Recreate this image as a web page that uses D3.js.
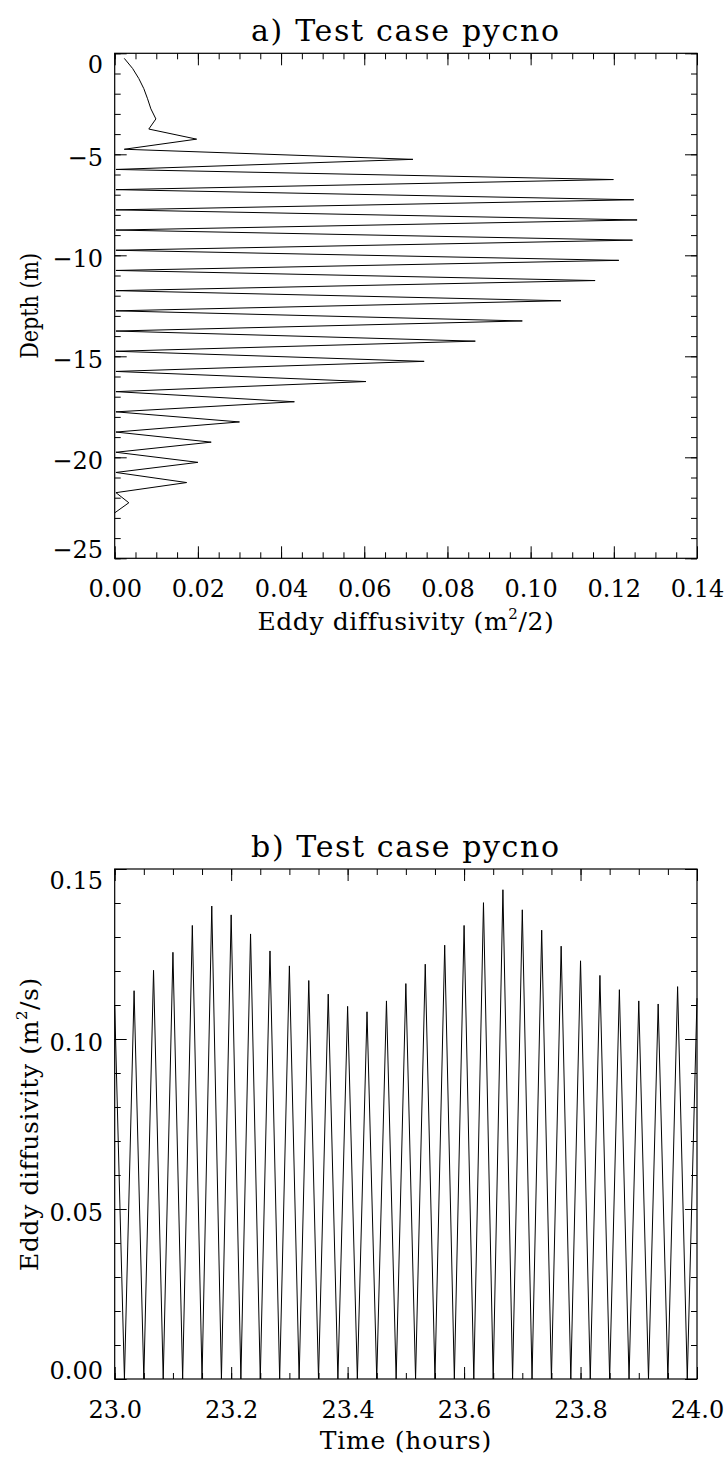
<!DOCTYPE html>
<html>
<head>
<meta charset="utf-8" />
<title>Test case pycno</title>
<script src="https://d3js.org/d3.v7.min.js"></script>
<style>
  body { margin: 0; background: #fff; }
  svg text { font-family: "DejaVu Serif", "Liberation Serif", serif !important; fill: #000; }
</style>
</head>
<body>
<svg width="727" height="1463"></svg>
<script>
// panel a: eddy diffusivity profile against depth
const depths = [-0.25, -0.75, -1.25, -1.75, -2.25, -2.75, -3.25, -3.75, -4.25, -4.75,
  -5.25, -5.75, -6.25, -6.75, -7.25, -7.75, -8.25, -8.75, -9.25, -9.75,
  -10.25, -10.75, -11.25, -11.75, -12.25, -12.75, -13.25, -13.75, -14.25, -14.75,
  -15.25, -15.75, -16.25, -16.75, -17.25, -17.75, -18.25, -18.75, -19.25, -19.75,
  -20.25, -20.75, -21.25, -21.75, -22.25, -22.75];
const diffA = [0.0023, 0.0043, 0.0058, 0.0070, 0.0079, 0.0087, 0.0099, 0.0082, 0.0197, 0.0023,
  0.0717, 0.0003, 0.1199, 0.0003, 0.1248, 0.0003, 0.1256, 0.0003, 0.1245, 0.0003,
  0.1212, 0.0003, 0.1155, 0.0003, 0.1073, 0.0003, 0.0980, 0.0003, 0.0867, 0.0003,
  0.0744, 0.0003, 0.0604, 0.0003, 0.0432, 0.0003, 0.0300, 0.0003, 0.0232, 0.0003,
  0.0200, 0.0003, 0.0173, 0.0003, 0.0034, 0.0000];
const xTicksA = [0, 0.02, 0.04, 0.06, 0.08, 0.10, 0.12, 0.14];
const yTicksA = [0, -5, -10, -15, -20, -25];

// panel b: eddy diffusivity time series
const times = [23.0000, 23.0167, 23.0333, 23.0500, 23.0667, 23.0833, 23.1000, 23.1167, 23.1333, 23.1500,
  23.1667, 23.1833, 23.2000, 23.2167, 23.2333, 23.2500, 23.2667, 23.2833, 23.3000, 23.3167,
  23.3333, 23.3500, 23.3667, 23.3833, 23.4000, 23.4167, 23.4333, 23.4500, 23.4667, 23.4833,
  23.5000, 23.5167, 23.5333, 23.5500, 23.5667, 23.5833, 23.6000, 23.6167, 23.6333, 23.6500,
  23.6667, 23.6833, 23.7000, 23.7167, 23.7333, 23.7500, 23.7667, 23.7833, 23.8000, 23.8167,
  23.8333, 23.8500, 23.8667, 23.8833, 23.9000, 23.9167, 23.9333, 23.9500, 23.9667, 23.9833,
  24.0000];
const diffB = [0.1100, 0, 0.1142, 0, 0.1202, 0, 0.1255, 0, 0.1334, 0,
  0.1391, 0, 0.1365, 0, 0.1309, 0, 0.1259, 0, 0.1215, 0,
  0.1172, 0, 0.1132, 0, 0.1096, 0, 0.1080, 0, 0.1112, 0,
  0.1163, 0, 0.1220, 0, 0.1276, 0, 0.1334, 0, 0.1401, 0,
  0.1439, 0, 0.1380, 0, 0.1320, 0, 0.1273, 0, 0.1230, 0,
  0.1187, 0, 0.1145, 0, 0.1112, 0, 0.1103, 0, 0.1154, 0,
  0.1120];
const xTicksB = [23.0, 23.2, 23.4, 23.6, 23.8, 24.0];
const yTicksB = [0, 0.05, 0.10, 0.15];

const svg = d3.select("svg");
const minus = (s) => s.replace("-", "\u2212");
const FONT = "DejaVu Serif, Liberation Serif, serif";

// stretch a text to a target width with letter spacing
function fitWidth(sel, target) {
  const n = sel.text().length;
  const w = sel.node().getComputedTextLength();
  sel.attr("letter-spacing", ((target - w) / Math.max(1, n - 1)).toFixed(2));
}

function drawPanel(p) {
  const g = svg.append("g").attr("font-family", FONT);
  const W = p.right - p.left, H = p.bottom - p.top;

  // boxed ticks on all four sides, pointing inward
  const makers = [d3.axisBottom, d3.axisTop, d3.axisLeft, d3.axisRight];
  const trans = [`translate(0,${p.bottom})`, `translate(0,${p.top})`,
    `translate(${p.left},0)`, `translate(${p.right},0)`];
  makers.forEach((mk, i) => {
    const horiz = i < 2;
    const scale = horiz ? p.x : p.y;
    // minor ticks
    g.append("g").attr("transform", trans[i])
      .call(mk(scale).tickValues(horiz ? p.xMinor : p.yMinor).tickFormat("").tickSize(-6).tickSizeOuter(0))
      .call((s) => s.select(".domain").remove())
      .selectAll("line").attr("stroke", "#000");
    // major ticks
    const ax = mk(scale).tickValues(horiz ? p.xTicks : p.yTicks).tickSize(-12).tickSizeOuter(0);
    if (i === 0) ax.tickFormat(p.xFormat).tickPadding(22);
    else if (i === 2) ax.tickFormat(p.yFormat).tickPadding(11.7);
    else ax.tickFormat("");
    const ag = g.append("g").attr("transform", trans[i]).call(ax)
      .attr("font-family", FONT)
      .call((s) => s.select(".domain").remove());
    ag.selectAll("line").attr("stroke", "#000");
    ag.selectAll("text").attr("font-size", 24).attr("fill", "#000");
    if (i === 2) {
      ag.selectAll("text").attr("dy", (d) => {
        const py = p.y(d);
        if (Math.abs(py - p.top) < 1) return "19";
        if (Math.abs(py - p.bottom) < 1) return "-1";
        return "11";
      });
    }
  });

  // frame
  g.append("rect")
    .attr("x", p.left).attr("y", p.top).attr("width", W).attr("height", H)
    .attr("fill", "none").attr("stroke", "#000").attr("stroke-width", 1.2);

  // data
  g.append("path").datum(p.data)
    .attr("fill", "none").attr("stroke", "#000").attr("stroke-width", 1)
    .attr("d", d3.line().x((d) => p.x(d[0])).y((d) => p.y(d[1])));

  // title
  const t = g.append("text").attr("x", (p.left + p.right) / 2).attr("y", p.titleY)
    .attr("text-anchor", "middle").attr("font-size", 30).text(p.title);
  fitWidth(t, 308);

  // x axis title
  const xt = g.append("text").attr("x", (p.left + p.right) / 2).attr("y", p.xTitleY)
    .attr("text-anchor", "middle").attr("font-size", 25);
  p.xTitle(xt);

  // y axis title, squeezed along the text to the reference length
  const cy = (p.top + p.bottom) / 2;
  const yt = g.append("text").attr("text-anchor", "middle").attr("font-size", 25);
  p.yTitle(yt);
  const sx = p.yTitleLen / yt.node().getComputedTextLength();
  yt.attr("transform", `translate(38,${cy}) rotate(-90) scale(${Math.min(1, sx).toFixed(3)},1)`);
}

const withSup = (pre, sup, post, spacing) => (sel) => {
  sel.attr("letter-spacing", spacing);
  sel.append("tspan").text(pre);
  sel.append("tspan").attr("font-size", 15).attr("dy", -11).text(sup);
  sel.append("tspan").attr("dy", 11).text(post);
};

// panel a
const xA = d3.scaleLinear().domain([0, 0.14]).range([114.7, 697]);
const yA = d3.scaleLinear().domain([0, -25]).range([53.3, 558.3]);
drawPanel({
  left: 114.7, right: 697, top: 53.3, bottom: 558.3,
  x: xA, y: yA,
  xTicks: xTicksA, xMinor: d3.range(0, 0.1401, 0.005),
  yTicks: yTicksA, yMinor: d3.range(0, -25.01, -1),
  xFormat: d3.format(".2f"), yFormat: (d) => minus(String(d)),
  data: depths.map((d, i) => [diffA[i], d]),
  title: "a) Test case pycno", titleY: 41,
  xTitleY: 630,
  xTitle: withSup("Eddy diffusivity (m", "2", "/2)", 0.6),
  yTitle: (s) => { s.text("Depth (m)"); },
  yTitleLen: 106,
});

// panel b
const xB = d3.scaleLinear().domain([23, 24]).range([114.7, 697]);
const yB = d3.scaleLinear().domain([0, 0.15]).range([1379, 869]);
drawPanel({
  left: 114.7, right: 697, top: 869, bottom: 1379,
  x: xB, y: yB,
  xTicks: xTicksB, xMinor: d3.range(23, 24.001, 0.05),
  yTicks: yTicksB, yMinor: d3.range(0, 0.1501, 0.01),
  xFormat: d3.format(".1f"), yFormat: d3.format(".2f"),
  data: times.map((t, i) => [t, diffB[i]]),
  title: "b) Test case pycno", titleY: 857,
  xTitleY: 1449,
  xTitle: (s) => { s.attr("letter-spacing", 0.8).text("Time (hours)"); },
  yTitle: withSup("Eddy diffusivity (m", "2", "/s)", 0.6),
  yTitleLen: 312,
});
</script>
</body>
</html>
